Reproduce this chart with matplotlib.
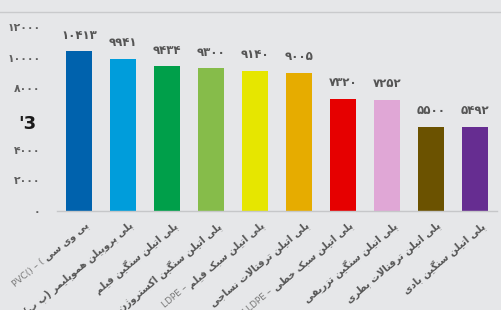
import matplotlib
matplotlib.use("Agg")
import math
import matplotlib.pyplot as plt
from matplotlib.lines import Line2D
import matplotlib.transforms as mtransforms

# ---------------- data ----------------
categories = [
    "پی وی سی",
    "پلی پروپیلن هموپلیمر (پ پ)",
    "پلی اتیلن سنگین فیلم",
    "پلی اتیلن سنگین اکستروژن",
    "پلی اتیلن سبک فیلم",
    "پلی اتیلن ترفتالات نساجی",
    "پلی اتیلن سبک خطی",
    "پلی اتیلن سنگین تزریقی",
    "پلی اتیلن ترفتالات بطری",
    "پلی اتیلن سنگین بادی",
]
latin_prefix = ["PVC() – ( ", "", "", "", "LDPE – ", "", "LLDPE – ", "", "", ""]
values = [10413, 9941, 9434, 9300, 9140, 9005, 7320, 7252, 5500, 5492]
colors = ["#0062ad", "#009ddb", "#009f4a", "#86bc4a", "#e6e600",
          "#e6ac00", "#e60000", "#e0a7d6", "#6b5200", "#662d91"]
yticks = [0, 2000, 4000, 6000, 8000, 10000, 12000]
ytick_labels = ["۰", "۲۰۰۰", "۴۰۰۰", "'3", "۸۰۰۰", "۱۰۰۰۰", "۱۲۰۰۰"]
ODD_LABEL = "'3"

# ------------- simple Arabic/Persian shaping -------------
FORMS = {
    'ا': (0xFE8D, 0xFE8E, None, None),
    'ب': (0xFE8F, 0xFE90, 0xFE91, 0xFE92),
    'پ': (0xFB56, 0xFB57, 0xFB58, 0xFB59),
    'ت': (0xFE95, 0xFE96, 0xFE97, 0xFE98),
    'ج': (0xFE9D, 0xFE9E, 0xFE9F, 0xFEA0),
    'خ': (0xFEA5, 0xFEA6, 0xFEA7, 0xFEA8),
    'د': (0xFEA9, 0xFEAA, None, None),
    'ر': (0xFEAD, 0xFEAE, None, None),
    'ز': (0xFEAF, 0xFEB0, None, None),
    'ژ': (0xFB8A, 0xFB8B, None, None),
    'س': (0xFEB1, 0xFEB2, 0xFEB3, 0xFEB4),
    'ط': (0xFEC1, 0xFEC2, 0xFEC3, 0xFEC4),
    'ف': (0xFED1, 0xFED2, 0xFED3, 0xFED4),
    'ق': (0xFED5, 0xFED6, 0xFED7, 0xFED8),
    'ک': (0xFB8E, 0xFB8F, 0xFB90, 0xFB91),
    'گ': (0xFB92, 0xFB93, 0xFB94, 0xFB95),
    'ل': (0xFEDD, 0xFEDE, 0xFEDF, 0xFEE0),
    'م': (0xFEE1, 0xFEE2, 0xFEE3, 0xFEE4),
    'ن': (0xFEE5, 0xFEE6, 0xFEE7, 0xFEE8),
    'ه': (0xFEE9, 0xFEEA, 0xFEEB, 0xFEEC),
    'و': (0xFEED, 0xFEEE, None, None),
    'ی': (0xFBFC, 0xFBFD, 0xFBFE, 0xFBFF),
}
MIRROR = {'(': ')', ')': '('}


def shape_word(word):
    out = []
    i = 0
    n = len(word)
    prev_joins = False
    while i < n:
        c = word[i]
        if c not in FORMS:
            out.append(c)
            prev_joins = False
            i += 1
            continue
        if c == 'ل' and i + 1 < n and word[i + 1] == 'ا':
            out.append(chr(0xFEFC if prev_joins else 0xFEFB))
            prev_joins = False
            i += 2
            continue
        iso, fin, ini, med = FORMS[c]
        nxt = word[i + 1] if i + 1 < n else None
        next_ok = ini is not None and nxt in FORMS
        if prev_joins and next_ok:
            g = med
        elif prev_joins:
            g = fin
        elif next_ok:
            g = ini
        else:
            g = iso
        out.append(chr(g))
        prev_joins = ini is not None
        i += 1
    return "".join(out)


def visual(text):
    shaped = shape_word(text)
    return "".join(MIRROR.get(ch, ch) for ch in reversed(shaped))


# ---------------- figure ----------------
W, H = 502, 310
bg = "#e6e7e9"
fig = plt.figure(figsize=(W / 100, H / 100), dpi=100, facecolor=bg)
ax = fig.add_axes([57 / W, 99 / H, 440 / W, (211 - 27) / H], facecolor=bg)

x = list(range(len(values)))
ax.bar(x, values, width=0.6, color=colors, zorder=2)
ax.set_xlim(-0.5, len(values) - 0.5)
ax.set_ylim(0, 12000)

for s in ["left", "right", "top"]:
    ax.spines[s].set_visible(False)
ax.spines["bottom"].set_color("#c6c7c9")
ax.spines["bottom"].set_linewidth(1.0)

ax.set_yticks(yticks)
ax.set_yticklabels(["" if t == ODD_LABEL else t for t in ytick_labels])
ax.tick_params(axis="y", length=0, pad=12, labelsize=7.8, labelcolor="#606060")
for lab in ax.get_yticklabels():
    lab.set_fontweight("bold")
    lab.set_family(["DejaVu Sans"])
ax.set_xticks([])

# the odd, darker 6000 label drawn in place
for yv, t in zip(yticks, ytick_labels):
    if t == ODD_LABEL:
        odd_tr = mtransforms.blended_transform_factory(ax.transAxes, ax.transData)
        ax.text(-30 / 440, yv, t, transform=odd_tr + mtransforms.ScaledTranslation(
                    0, -5 / 100, fig.dpi_scale_trans),
                ha="center", va="center", fontsize=13, fontweight="bold",
                color="#1a1a1a", family=["DejaVu Sans"], clip_on=False)

for xi, v in zip(x, values):
    digits = str(v).translate(str.maketrans("0123456789", "۰۱۲۳۴۵۶۷۸۹"))
    ax.annotate(digits, (xi, v), xytext=(0, 7), textcoords="offset points",
                ha="center", va="bottom", fontsize=8.5, fontweight="bold",
                color="#555555", family=["DejaVu Sans"], annotation_clip=False)

ROT = 40
renderer = fig.canvas.get_renderer()
base = mtransforms.blended_transform_factory(ax.transData, ax.transAxes)
for xi, cat, pre in zip(x, categories, latin_prefix):
    offset = mtransforms.ScaledTranslation(5 / 100, -9 / 100, fig.dpi_scale_trans)
    fa = visual(cat)
    ax.text(xi, 0, fa, transform=base + offset, rotation=ROT,
            rotation_mode="anchor", ha="right", va="top",
            fontsize=7, fontweight="bold", color="#555555",
            family=["DejaVu Sans"], clip_on=False)
    if pre:
        tmp = fig.text(0, 0, fa, fontsize=7, fontweight="bold", family=["DejaVu Sans"])
        w = tmp.get_window_extent(renderer).width
        tmp.remove()
        dx = -w * math.cos(math.radians(ROT))
        dy = -w * math.sin(math.radians(ROT))
        off2 = mtransforms.ScaledTranslation((5 + dx) / 100, (-9 + dy) / 100,
                                             fig.dpi_scale_trans)
        ax.text(xi, 0, pre, transform=base + off2, rotation=ROT,
                rotation_mode="anchor", ha="right", va="top",
                fontsize=6.5, color="#7a7a7a", family=["DejaVu Sans"],
                clip_on=False)

fig.add_artist(Line2D([0, 1], [1 - 12 / H, 1 - 12 / H], color="#c9cacc",
                      lw=1.0, transform=fig.transFigure))

fig.savefig("out.png", dpi=100, facecolor=bg)
